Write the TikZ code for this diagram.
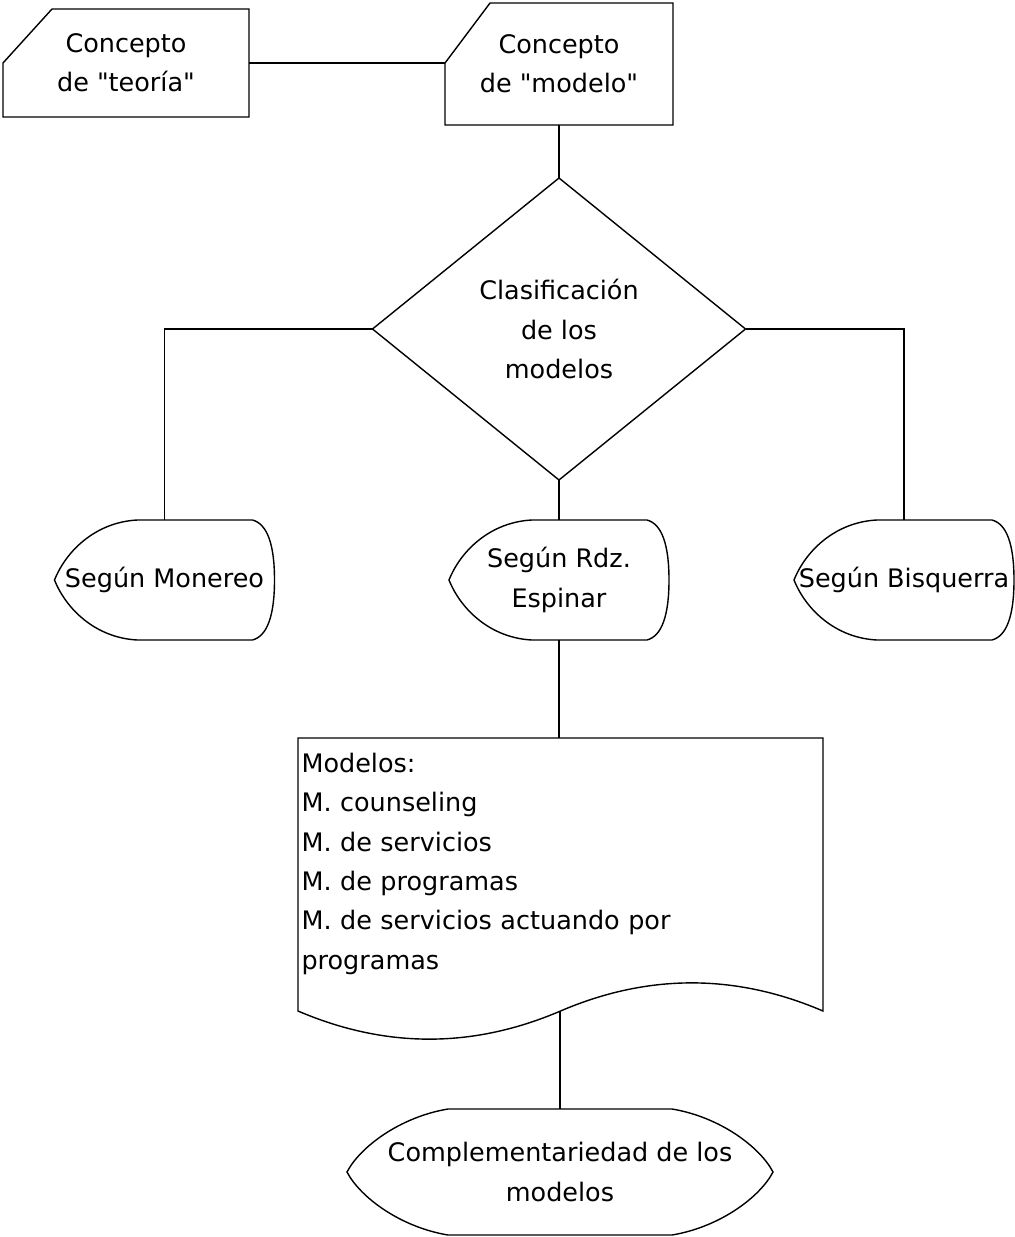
\documentclass[tikz,border=0pt]{standalone}
\usepackage{fontspec}
\setmainfont{DejaVu Sans}[Ligatures=TeXOff]
\usetikzlibrary{shapes.geometric}

\begin{document}
\begin{tikzpicture}[
    line width=0.8pt,
    every node/.style={font=\fontsize{14.5}{22.4}\selectfont, align=center, inner sep=0pt, outer sep=0pt},
    card/.style={minimum height=2.2cm},
    choice/.style={diamond, draw, minimum width=7.46cm, minimum height=6.04cm},
    display/.style={minimum width=4.4cm, minimum height=2.4cm},
    doctext/.style={anchor=north west, align=left, text width=10.3cm, inner xsep=2pt, inner ysep=8.6pt},
    prep/.style={minimum width=8.52cm, minimum height=2.52cm}
]

    % Fix the frame of the picture
    \useasboundingbox (0,0) rectangle (20.3,-24.74);

    % Define the two concept cards
    \node[card, minimum width=4.92cm, minimum height=2.16cm] (teoria) at (2.52,-1.26) {Concepto\\de "teoría"};
    \node[card, minimum width=4.56cm, minimum height=2.44cm] (modelo) at (11.18,-1.28) {Concepto\\de "modelo"};

    % Draw the cards with the cut corner
    \foreach \n/\cx/\cy in {teoria/0.98/1.08, modelo/0.9/1.2}
        \draw (\n.north east) -- ([xshift=\cx cm]\n.north west) -- ([yshift=-\cy cm]\n.north west)
            -- (\n.south west) -- (\n.south east) -- cycle;

    % Classification diamond
    \node[choice] (clasif) at (11.18,-6.58) {Clasificación\\de los\\modelos};

    % The three authors
    \node[display] (monereo) at (3.29,-11.6) {Según Monereo};
    \node[display] (rdz) at (11.18,-11.6) {Según Rdz.\\Espinar};
    \node[display] (bisquerra) at (18.08,-11.6) {Según Bisquerra};

    \foreach \n in {monereo,rdz,bisquerra}
        \draw[shift={(\n.west)}] (1.66,1.2) -- (3.96,1.2)
            .. controls (4.26,1.12) and (4.4,0.7) .. (4.4,0)
            .. controls (4.4,-0.7) and (4.26,-1.12) .. (3.96,-1.2) -- (1.66,-1.2)
            .. controls (0.84,-1.16) and (0.24,-0.6) .. (0,0)
            .. controls (0.24,0.6) and (0.84,1.16) .. cycle;

    % Document with the list of models
    \node[doctext] (doc) at (5.96,-14.76) {Modelos:\\M. counseling\\M. de servicios\\M. de programas\\M. de servicios actuando por\\programas};
    \draw (5.96,-20.22) -- (5.96,-14.76) -- (16.46,-14.76) -- (16.46,-20.22)
        .. controls (14.71,-19.47) and (12.96,-19.47) .. (11.21,-20.22)
        .. controls (9.46,-20.97) and (7.71,-20.97) .. cycle;
    \coordinate (docwave) at (11.2,-20.22);

    % Final shape
    \node[prep] (compl) at (11.2,-23.44) {Complementariedad de los\\modelos};
    \draw[shift={(compl.west)}] (2.02,1.26) -- (6.5,1.26)
        .. controls (7.46,1.1) and (8.26,0.5) .. (8.52,0)
        .. controls (8.26,-0.5) and (7.46,-1.1) .. (6.5,-1.26) -- (2.02,-1.26)
        .. controls (1.06,-1.1) and (0.26,-0.5) .. (0,0)
        .. controls (0.26,0.5) and (1.06,1.1) .. cycle;

    % Connectors
    \draw (teoria.east) -- (teoria.east -| modelo.west);
    \draw (modelo) -- (clasif);
    \draw (clasif.west) -| (monereo.north);
    \draw (clasif.east) -| (bisquerra.north);
    \draw (clasif) -- (rdz);
    \draw (rdz.south) -- (rdz.south |- doc.north);
    \draw (docwave) -- (docwave |- compl.north);

\end{tikzpicture}
\end{document}
